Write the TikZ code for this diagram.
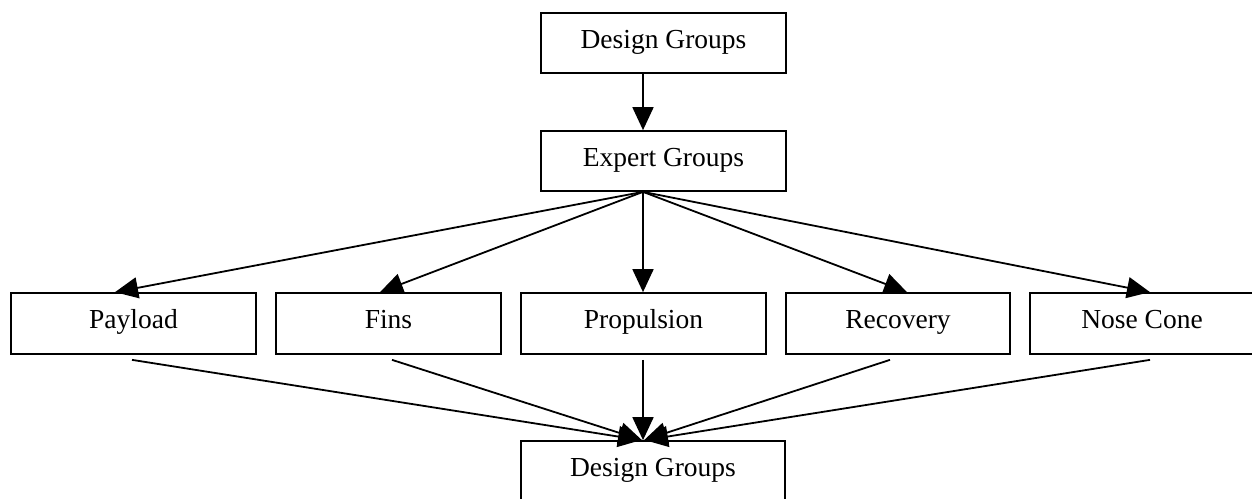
\documentclass[tikz,border=0pt]{standalone}
\usepackage{fontspec}
\setmainfont{Liberation Serif}
\usetikzlibrary{arrows.meta}
\begin{document}
\begin{tikzpicture}[x=1pt,y=-1pt,
  box/.style={draw, line width=1.7pt, minimum height=60pt, inner sep=0pt, text height=18pt, text depth=8pt, font=\fontsize{27.5}{33}\selectfont},
  conn/.style={line width=1.8pt, -{Triangle[length=23pt,width=21pt]}}]
\useasboundingbox (0,0) rectangle (1252,498);
\node[box, minimum width=245pt] (top) at (663.5,43) {Design Groups};
\node[box, minimum width=245pt] (exp) at (663.5,161) {Expert Groups};
\node[box, minimum width=245pt, minimum height=61pt] (pay) at (133.5,323.5) {Payload};
\node[box, minimum width=225pt, minimum height=61pt] (fins) at (388.5,323.5) {Fins};
\node[box, minimum width=245pt, minimum height=61pt] (prop) at (643.5,323.5) {Propulsion};
\node[box, minimum width=224pt, minimum height=61pt] (rec) at (898,323.5) {Recovery};
\node[box, minimum width=224pt, minimum height=61pt] (nose) at (1142,323.5) {Nose Cone};
\node[box, minimum width=264pt] (bot) at (653,471) {Design Groups};
\draw[conn] ([xshift=-20.5pt]top.south) -- ([xshift=-20.5pt]exp.north);
\draw[conn] ([xshift=-20.5pt]exp.south) -- ([xshift=-18.5pt]pay.north);
\draw[conn] ([xshift=-20.5pt]exp.south) -- ([xshift=-8.5pt]fins.north);
\draw[conn] ([xshift=-20.5pt]exp.south) -- ([xshift=-0.5pt]prop.north);
\draw[conn] ([xshift=-20.5pt]exp.south) -- ([xshift=9pt]rec.north);
\draw[conn] ([xshift=-20.5pt]exp.south) -- ([xshift=8pt]nose.north);
\draw[conn] ([xshift=-1.5pt,yshift=-5pt]pay.south) -- ([xshift=-12pt]bot.north);
\draw[conn] ([xshift=3.5pt,yshift=-5pt]fins.south) -- ([xshift=-11pt]bot.north);
\draw[conn] ([xshift=-0.5pt,yshift=-5pt]prop.south) -- ([xshift=-10pt]bot.north);
\draw[conn] ([xshift=-8pt,yshift=-5pt]rec.south) -- ([xshift=-9pt]bot.north);
\draw[conn] ([xshift=8pt,yshift=-5pt]nose.south) -- ([xshift=-8pt]bot.north);
\end{tikzpicture}
\end{document}
